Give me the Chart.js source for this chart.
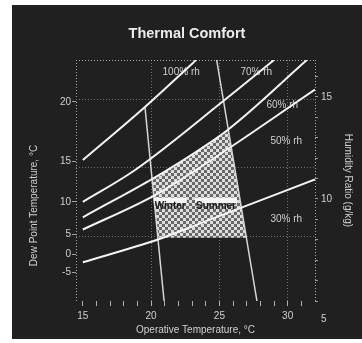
<!DOCTYPE html>
<html>
<head>
<meta charset="utf-8">
<title>Thermal Comfort</title>
<script src="https://cdn.jsdelivr.net/npm/chart.js@4.4.1/dist/chart.umd.min.js"></script>
<style>
  html, body { margin: 0; padding: 0; background: #ffffff; }
  body { width: 362px; height: 343px; position: relative; overflow: hidden; }
  #panel { position: absolute; left: 12px; top: 5px; width: 350px; height: 334px; background: #202020; }
  canvas { display: block; }
</style>
</head>
<body>
<div id="panel"><canvas id="chart" width="350" height="334"></canvas></div>
<script>
// Operative temperature (°C) on x, humidity ratio (g/kg) on y.
const tempTicks = [15, 16, 17, 18, 19, 20, 21, 22, 23, 24, 25, 26, 27, 28, 29, 30, 31];
const tempLabels = [15, 20, 25, 30];
const ratioTicks = [5, 6, 7, 8, 9, 10, 11, 12, 13, 14, 15, 16];
const ratioLabels = [5, 10, 15];
const dewPointLabels = [-5, 0, 5, 10, 15, 20];
const dewPointRatio = [6.4, 7.3, 8.25, 9.85, 11.85, 14.75];
const gridRatio = [8.15, 11.55, 14.85];

// Relative humidity curves: [operative temperature, humidity ratio]
const rh100 = [[15, 11.9], [19.55, 14.5], [23.3, 16.8]];
const rh70 = [[15, 9.85], [18.8, 11.4], [25.4, 14.85], [29.0, 16.8]];
const rh60 = [[15, 9.1], [21.15, 11.4], [25.65, 13.4], [31.4, 16.8]];
const rh50 = [[15, 8.5], [20.05, 10.1], [23.6, 11.55], [32, 15.35]];
const rh30 = [[15, 6.9], [20.45, 8.0], [23.6, 8.8], [32, 10.95]];

// Temperature limits of the comfort zone
const winterEdge = [[19.55, 14.5], [20.95, 5]];
const summerEdge = [[24.8, 16.8], [27.75, 5]];

// Comfort zone outline (closed)
const comfortZone = [[20.05, 11.0], [21.15, 11.4], [25.65, 13.4], [27.0, 8.1], [20.5, 8.1], [20.05, 11.0]];

// Curve captions and zone captions, anchored in data units
const rhLabelText = ['100% rh', '70% rh', '60% rh', '50% rh', '30% rh'];
const rhLabelAt = [[22.2, 16.2], [27.7, 16.2], [29.6, 14.6], [29.9, 12.8], [29.9, 9.0]];
const zoneLabelText = ['Winter', 'Summer'];
const zoneLabelAt = [[21.4, 9.65], [24.75, 9.65]];

const T_MIN = 14.5, T_MAX = 32;
const W_MIN = 5, W_MAX = 16.8;

const FONT = '"Liberation Sans", Arial, Helvetica, sans-serif';
const INK = '#d0d0d0';
const CLEAR = 'rgba(0,0,0,0)';

const canvas = document.getElementById('chart');
const ctx2d = canvas.getContext('2d');

// 3px checkerboard used to shade the comfort zone
function checkerPattern() {
  const tile = document.createElement('canvas');
  tile.width = 6; tile.height = 6;
  const t = tile.getContext('2d');
  t.fillStyle = '#686868'; t.fillRect(0, 0, 6, 6);
  t.fillStyle = '#dedede'; t.fillRect(0, 0, 3, 3); t.fillRect(3, 3, 3, 3);
  return ctx2d.createPattern(tile, 'repeat');
}

const toPoints = pairs => pairs.map(([x, y]) => ({ x, y }));

function rhCurve(pairs) {
  return {
    data: toPoints(pairs), showLine: true, borderColor: '#f4f4f4', borderWidth: 2,
    pointRadius: 0, cubicInterpolationMode: 'monotone', fill: false, order: 1
  };
}
function edgeLine(pairs) {
  return {
    data: toPoints(pairs), showLine: true, borderColor: '#d6d6d6', borderWidth: 1.5,
    pointRadius: 0, tension: 0, fill: false, order: 2
  };
}

const captions = {
  id: 'captions',
  beforeDatasetsDraw(chart) {
    const { ctx, scales: { x, y } } = chart;
    ctx.save();
    ctx.font = '10px ' + FONT;
    ctx.fillStyle = INK;
    ctx.textAlign = 'center';
    ctx.textBaseline = 'middle';
    rhLabelText.forEach((txt, i) => {
      ctx.fillText(txt, x.getPixelForValue(rhLabelAt[i][0]), y.getPixelForValue(rhLabelAt[i][1]));
    });
    ctx.restore();
  },
  afterDatasetsDraw(chart) {
    const { ctx, chartArea, scales: { x, y } } = chart;
    ctx.save();
    ctx.font = 'bold 10px ' + FONT;
    ctx.textAlign = 'center';
    ctx.textBaseline = 'middle';
    zoneLabelText.forEach((txt, i) => {
      const px = x.getPixelForValue(zoneLabelAt[i][0]);
      const py = y.getPixelForValue(zoneLabelAt[i][1]);
      const w = ctx.measureText(txt).width;
      ctx.fillStyle = '#f4f4f4';
      ctx.fillRect(px - w / 2 - 1, py - 8.5, w + 2, 5.5);
      ctx.fillStyle = '#1c1c1c';
      ctx.fillText(txt, px, py);
    });
    // dew point axis caption
    ctx.font = '10px ' + FONT;
    ctx.fillStyle = INK;
    ctx.translate(chartArea.left - 42, (chartArea.top + chartArea.bottom) / 2 + 25);
    ctx.rotate(-Math.PI / 2);
    ctx.fillText('Dew Point Temperature, °C', 0, 0);
    ctx.restore();
  }
};

const isEdge = v => v === T_MIN || v === T_MAX;

new Chart(canvas, {
  type: 'scatter',
  data: {
    datasets: [
      {
        data: toPoints(comfortZone), showLine: true, borderWidth: 0, borderColor: CLEAR,
        backgroundColor: checkerPattern(), fill: 'shape', pointRadius: 0, tension: 0, order: 5
      },
      edgeLine(winterEdge),
      edgeLine(summerEdge),
      rhCurve(rh100),
      rhCurve(rh70),
      rhCurve(rh60),
      rhCurve(rh50),
      rhCurve(rh30)
    ]
  },
  options: {
    responsive: false,
    animation: false,
    layout: { padding: 0 },
    plugins: {
      legend: { display: false },
      tooltip: { enabled: false },
      title: {
        display: true, text: 'Thermal Comfort', color: '#ececec',
        font: { family: FONT, size: 14.5, weight: 'bold' },
        padding: { top: 20.5, bottom: 17.1 }
      }
    },
    scales: {
      x: {
        type: 'linear', position: 'bottom', min: T_MIN, max: T_MAX,
        afterBuildTicks: s => { s.ticks = [T_MIN, ...tempTicks, T_MAX].map(v => ({ value: v })); },
        afterFit: s => { s.height = 38; },
        ticks: {
          autoSkip: false, maxRotation: 0, padding: 4, color: INK,
          font: { family: FONT, size: 10 },
          callback: v => tempLabels.includes(v) ? String(v) : ''
        },
        grid: {
          lineWidth: 1, tickLength: 5,
          color: c => isEdge(c.tick.value) ? '#a8a8a8'
            : (tempLabels.includes(c.tick.value) && c.tick.value !== tempLabels[0]) ? '#707070' : CLEAR,
          tickColor: c => isEdge(c.tick.value) ? CLEAR : '#b0b0b0'
        },
        border: { display: false, dash: [1, 2] },
        title: {
          display: true, text: 'Operative Temperature, °C', color: INK,
          font: { family: FONT, size: 10 }, padding: { top: 0, bottom: 3 }
        }
      },
      y: {
        type: 'linear', position: 'right', min: W_MIN, max: W_MAX,
        afterBuildTicks: s => { s.ticks = ratioTicks.map(v => ({ value: v })); },
        afterFit: s => { s.width = 47; },
        ticks: {
          autoSkip: false, padding: 3, color: INK, font: { family: FONT, size: 10 },
          callback: v => v === ratioLabels[0] ? ['', '', '', String(v)]
            : ratioLabels.includes(v) ? String(v) : ''
        },
        grid: { drawOnChartArea: false, tickLength: 3, tickColor: '#9a9a9a' },
        border: { display: false },
        title: {
          display: true, text: 'Humidity Ratio (g/kg)', color: INK,
          font: { family: FONT, size: 10 }, padding: { top: 8, bottom: 0 }
        }
      },
      yDew: {
        type: 'linear', position: 'left', min: W_MIN, max: W_MAX,
        afterBuildTicks: s => { s.ticks = dewPointRatio.map(v => ({ value: v })); },
        afterFit: s => { s.width = 64; },
        ticks: {
          autoSkip: false, padding: 1, color: INK, font: { family: FONT, size: 10 },
          callback: (v, i) => String(dewPointLabels[i])
        },
        grid: { drawOnChartArea: false, tickLength: 4, tickColor: '#a0a0a0' },
        border: { display: false }
      },
      yGrid: {
        type: 'linear', position: 'left', min: W_MIN, max: W_MAX,
        afterBuildTicks: s => { s.ticks = [...gridRatio, W_MAX].map(v => ({ value: v })); },
        afterFit: s => { s.width = 0; },
        ticks: { display: false },
        grid: { drawTicks: false, color: c => c.tick.value === W_MAX ? '#a8a8a8' : '#707070' },
        border: { display: false, dash: [1, 2] }
      }
    }
  },
  plugins: [captions]
});
</script>
</body>
</html>
